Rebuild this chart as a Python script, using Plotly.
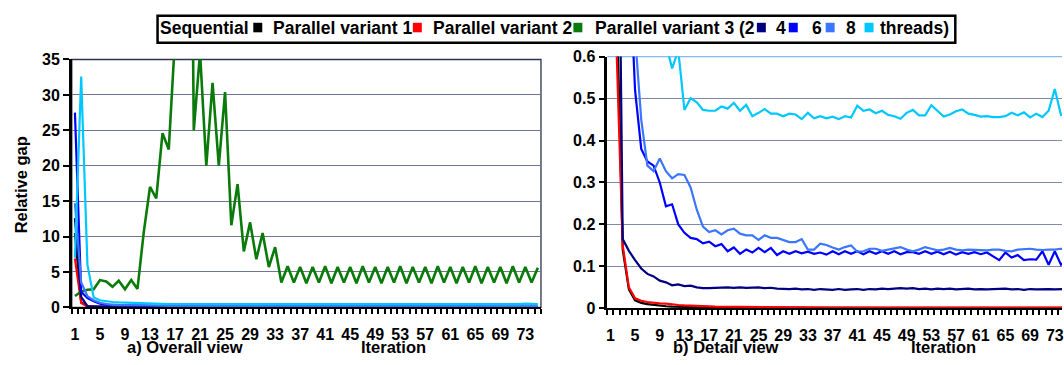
import plotly.graph_objects as go

# ---------------------------------------------------------------- data
iterations = list(range(1, 76))

sequential = [
    10.5, 0.75, 0.14, 0.045, 0.019, 0.013, 0.010, 0.008, 0.006, 0.005,
    0.004, 0.0035, 0.003, 0.0028, 0.0025, 0.0022, 0.002, 0.0018, 0.0017, 0.0016,
    0.0015, 0.0015, 0.0014, 0.0014, 0.0013, 0.0013, 0.0013, 0.0012, 0.0012, 0.0012,
    0.0012, 0.0011, 0.0011, 0.0011, 0.0011, 0.0011, 0.001, 0.001, 0.001, 0.001,
    0.001, 0.001, 0.001, 0.001, 0.001, 0.001, 0.001, 0.001, 0.001, 0.001,
    0.001, 0.001, 0.001, 0.001, 0.001, 0.001, 0.001, 0.001, 0.001, 0.001,
    0.001, 0.001, 0.001, 0.001, 0.001, 0.001, 0.001, 0.001, 0.001, 0.001,
    0.001, 0.001, 0.001, 0.001, 0.001,
]

parallel_1 = [
    6.9, 0.62, 0.15, 0.05, 0.024, 0.018, 0.015, 0.013, 0.012, 0.011,
    0.009, 0.008, 0.007, 0.006, 0.0055, 0.005, 0.0045, 0.004, 0.0038, 0.0035,
    0.0032, 0.003, 0.003, 0.0028, 0.0027, 0.0026, 0.0025, 0.0024, 0.0023, 0.0022,
    0.0022, 0.0021, 0.0021, 0.002, 0.002, 0.002, 0.002, 0.002, 0.002, 0.002,
    0.002, 0.002, 0.002, 0.002, 0.002, 0.002, 0.002, 0.002, 0.002, 0.002,
    0.002, 0.002, 0.002, 0.002, 0.002, 0.002, 0.002, 0.002, 0.002, 0.002,
    0.002, 0.002, 0.002, 0.002, 0.002, 0.002, 0.002, 0.002, 0.002, 0.002,
    0.002, 0.002, 0.002, 0.002, 0.002,
]

parallel_2 = [
    1.6, 2.2, 2.5, 2.55, 3.85, 3.65, 2.9, 3.75, 2.55, 3.85,
    2.6, 10.6, 17.0, 15.4, 24.6, 22.3, 38.0, 60.0, 120.0, 25.0,
    36.0, 20.0, 31.7, 20.0, 30.4, 11.6, 17.4, 7.9, 12.0, 6.8,
    10.5, 5.7, 8.5, 3.5, 5.8, 3.5, 5.7, 3.4, 5.7, 3.5,
    5.8, 3.4, 5.7, 3.5, 5.7, 3.4, 5.8, 3.5, 5.7, 3.4,
    5.7, 3.5, 5.8, 3.4, 5.7, 3.5, 5.7, 3.4, 5.8, 3.5,
    5.7, 3.4, 5.7, 3.5, 5.8, 3.4, 5.7, 3.5, 5.7, 3.4,
    5.8, 3.5, 5.7, 3.5, 5.6,
]

parallel_3_t2 = [
    12.6, 1.5, 0.165, 0.137, 0.115, 0.095, 0.082, 0.076, 0.066, 0.062,
    0.055, 0.057, 0.053, 0.054, 0.050, 0.048, 0.048, 0.049, 0.050, 0.050,
    0.049, 0.050, 0.049, 0.049, 0.050, 0.048, 0.049, 0.047, 0.046, 0.046,
    0.047, 0.045, 0.046, 0.044, 0.046, 0.045, 0.044, 0.046, 0.044, 0.045,
    0.046, 0.044, 0.046, 0.045, 0.047, 0.046, 0.047, 0.048, 0.047, 0.048,
    0.046, 0.047, 0.045, 0.047, 0.046, 0.047, 0.045, 0.046, 0.047, 0.045,
    0.046, 0.045, 0.046, 0.046, 0.047, 0.045, 0.046, 0.044, 0.046, 0.045,
    0.046, 0.046, 0.045, 0.046, 0.046,
]

parallel_3_t4 = [
    27.5, 2.2, 1.3, 0.85, 0.52, 0.38, 0.35, 0.34, 0.30, 0.243,
    0.248, 0.20, 0.18, 0.168, 0.165, 0.155, 0.159, 0.148, 0.153, 0.136,
    0.145, 0.13, 0.14, 0.133, 0.144, 0.134, 0.144, 0.127, 0.136, 0.13,
    0.136, 0.131, 0.135, 0.13, 0.133, 0.128, 0.136, 0.129, 0.136, 0.13,
    0.136, 0.129, 0.136, 0.13, 0.136, 0.13, 0.136, 0.129, 0.134, 0.134,
    0.13, 0.136, 0.13, 0.135, 0.129, 0.135, 0.128, 0.134, 0.13, 0.134,
    0.129, 0.133, 0.125, 0.115, 0.133, 0.121, 0.127, 0.115, 0.117, 0.116,
    0.136, 0.104, 0.136, 0.104, 0.118,
]

parallel_3_t6 = [
    14.7, 3.5, 1.6, 1.0, 0.65, 0.45, 0.34, 0.327, 0.357, 0.327,
    0.31, 0.32, 0.318, 0.288, 0.235, 0.195, 0.182, 0.186, 0.176, 0.186,
    0.19, 0.178, 0.174, 0.174, 0.163, 0.174, 0.168, 0.168, 0.163, 0.158,
    0.158, 0.165, 0.14, 0.14, 0.154, 0.151, 0.145, 0.14, 0.146, 0.15,
    0.135, 0.136, 0.142, 0.142, 0.137, 0.14, 0.143, 0.146, 0.14, 0.136,
    0.14, 0.146, 0.142, 0.138, 0.14, 0.144, 0.14, 0.138, 0.14, 0.139,
    0.138, 0.138, 0.14, 0.14, 0.137, 0.136, 0.14, 0.141, 0.142, 0.14,
    0.139, 0.14, 0.14, 0.142, 0.14,
]

parallel_3_t8 = [
    7.0, 32.6, 6.0, 1.4, 1.0, 0.85, 0.76, 0.7, 0.66, 0.63,
    0.572, 0.615, 0.473, 0.501, 0.491, 0.473, 0.471, 0.471, 0.481, 0.476,
    0.49, 0.471, 0.485, 0.458, 0.466, 0.475, 0.464, 0.464, 0.458, 0.464,
    0.462, 0.451, 0.466, 0.453, 0.458, 0.453, 0.457, 0.451, 0.458, 0.455,
    0.483, 0.471, 0.474, 0.465, 0.471, 0.461, 0.458, 0.452, 0.466, 0.473,
    0.46, 0.46, 0.484, 0.47, 0.457, 0.462, 0.47, 0.474, 0.464, 0.461,
    0.457, 0.458, 0.456, 0.456, 0.458, 0.466, 0.46, 0.467, 0.455, 0.464,
    0.456, 0.471, 0.523, 0.461, 0.465,
]

x_tick_labels = list(range(1, 76, 4))
overall_y_ticks = [0, 5, 10, 15, 20, 25, 30, 35]
detail_y_ticks = [0, 0.1, 0.2, 0.3, 0.4, 0.5, 0.6]
detail_y_labels = ["0", "0.1", "0.2", "0.3", "0.4", "0.5", "0.6"]

series = [
    ("Sequential", sequential, "#000000"),
    ("Parallel variant 1", parallel_1, "#ff0000"),
    ("Parallel variant 2", parallel_2, "#0a7a0a"),
    ("2", parallel_3_t2, "#000080"),
    ("4", parallel_3_t4, "#0000ff"),
    ("6", parallel_3_t6, "#3a76ff"),
    ("8", parallel_3_t8, "#00c8ff"),
]

# ---------------------------------------------------------------- layout helpers
W, H = 1064, 365
FONT = "Liberation Sans, Arial, sans-serif"


def fx(x):
    return x / W


def fy(y):
    return 1 - y / H


fig = go.Figure()

for name, values, color in series:
    width = 2.6 if name == "Parallel variant 2" else 2.2
    for xa, ya in (("x", "y"), ("x2", "y2")):
        fig.add_trace(go.Scatter(
            x=iterations, y=values, name=name, mode="lines",
            line=dict(color=color, width=width),
            xaxis=xa, yaxis=ya, showlegend=False, hoverinfo="skip",
        ))

tick_font = dict(family=FONT, size=16, color="#000000", weight="bold")
minor_ticks = dict(tickmode="linear", tick0=0.5, dtick=1, ticks="outside",
                   ticklen=5, tickwidth=1.5, tickcolor="#000000", showgrid=False)

x_common = dict(
    tickmode="array", tickvals=x_tick_labels, ticktext=[str(v) for v in x_tick_labels],
    ticks="", showline=True, linecolor="#000000", linewidth=2,
    showgrid=False, zeroline=False, tickfont=tick_font, minor=minor_ticks,
    ticklabelstandoff=11, ticklabeloverflow="allow", fixedrange=True,
)
y_common = dict(
    ticks="outside", ticklen=6, tickwidth=1.5, tickcolor="#000000",
    showline=True, linecolor="#000000", linewidth=2.5,
    showgrid=True, gridwidth=1, zeroline=False, tickfont=tick_font, fixedrange=True,
)

fig.update_layout(
    width=W, height=H, autosize=False,
    margin=dict(l=0, r=0, t=0, b=0, pad=0),
    paper_bgcolor="#ffffff", plot_bgcolor="#ffffff",
    font=dict(family=FONT, color="#000000"),
    xaxis=dict(domain=[fx(71), fx(541.5)], range=[0.5, 75.5], anchor="y", **x_common),
    yaxis=dict(domain=[fy(314), fy(54)], range=[0, 35], anchor="x",
               tickvals=overall_y_ticks, gridcolor="#6c7793", **y_common),
    xaxis2=dict(domain=[fx(608), 1.0], range=[0.5, 0.5 + (W - 608) / 6.19],
                anchor="y2", **x_common),
    yaxis2=dict(domain=[fy(315), fy(51)], range=[0, 0.6], anchor="x2",
                tickvals=detail_y_ticks, ticktext=detail_y_labels,
                gridcolor="#7f8bab", **y_common),
)

shapes = [
    # frame of the overall view
    dict(type="rect", xref="paper", yref="paper", x0=fx(71), x1=fx(541.5),
         y0=fy(314), y1=fy(54), line=dict(color="#2e3350", width=1.3), layer="between"),
    # top gridline of the detail view
    dict(type="line", xref="paper", yref="paper", x0=fx(608), x1=1.0,
         y0=fy(51), y1=fy(51), line=dict(color="#8ab8f0", width=1.3), layer="between"),
    # legend frame
    dict(type="rect", xref="paper", yref="paper", x0=fx(157), x1=fx(957),
         y0=fy(8), y1=fy(36.5), line=dict(color="#000000", width=2.5),
         fillcolor="#ffffff"),
]

annotations = []

# legend: label (centred on its slot) followed by a colour swatch
legend_items = [
    ("Sequential", 204, "#000000", 253),
    ("Parallel variant 1", 342, "#ff0000", 413),
    ("Parallel variant 2", 502.5, "#0a7a0a", 574),
    ("Parallel variant 3 (2", 676, "#000080", 758),
    ("4", 782.5, "#0000ff", 790),
    ("6", 818, "#3a76ff", 827),
    ("8", 852.5, "#00c8ff", 866),
    ("threads)", 916.5, None, None),
]
for label, tx, color, sx in legend_items:
    annotations.append(dict(
        text=label, x=fx(tx), y=fy(21.5), xref="paper", yref="paper",
        xanchor="center", yanchor="middle", showarrow=False,
        font=dict(family=FONT, size=17.5, color="#000000", weight="bold"),
    ))
    if color is not None:
        shapes.append(dict(type="rect", xref="paper", yref="paper",
                           x0=fx(sx), x1=fx(sx + 9), y0=fy(25.5), y1=fy(15.5),
                           line=dict(width=0), fillcolor=color))

title_font = dict(family=FONT, size=16.5, color="#000000", weight="bold")
for text, x, y, angle in [
    ("Relative gap", 20, 185, -90),
    ("a) Overall view", 185, 356, 0),
    ("Iteration", 394, 356, 0),
    ("b) Detail view", 727, 356, 0),
    ("Iteration", 945, 356, 0),
]:
    annotations.append(dict(
        text=text, x=fx(x), y=fy(y), xref="paper", yref="paper",
        xanchor="center", yanchor="middle", showarrow=False,
        textangle=angle, font=title_font,
    ))

fig.update_layout(shapes=shapes, annotations=annotations)

# the page shows the figure flush with the window edges
fig.write_html(
    "out.html",
    config={"displayModeBar": False},
    post_script="document.body.style.margin='0';document.body.style.padding='0';",
)
